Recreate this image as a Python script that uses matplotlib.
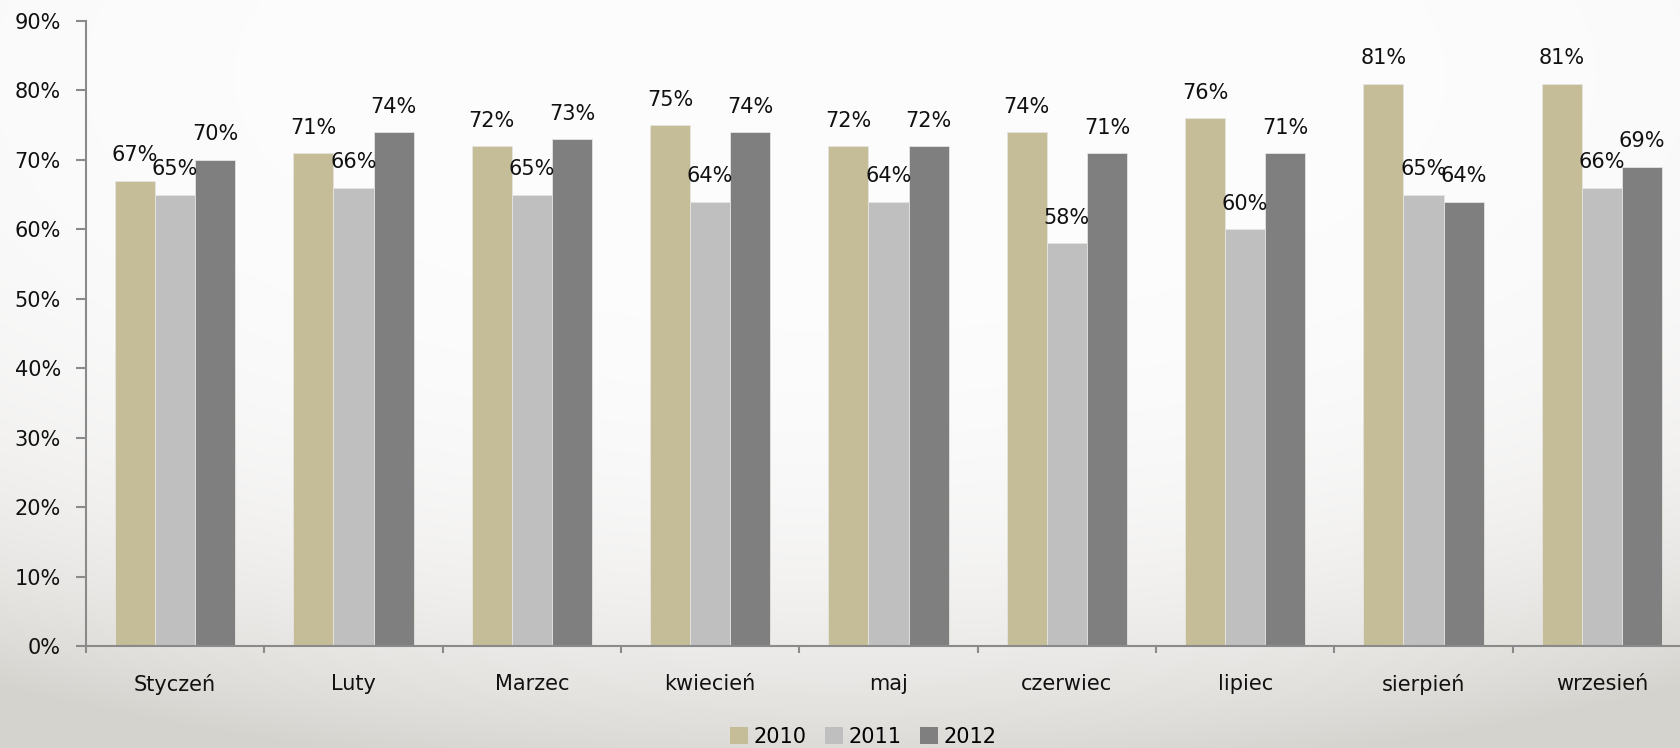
import numpy as np
import matplotlib
matplotlib.use("Agg")
import matplotlib.pyplot as plt
from matplotlib.patches import Patch

months = ["Styczeń", "Luty", "Marzec", "kwiecień", "maj",
          "czerwiec", "lipiec", "sierpień", "wrzesień"]
years = ["2010", "2011", "2012"]
share_2010 = [67, 71, 72, 75, 72, 74, 76, 81, 81]
share_2011 = [65, 66, 65, 64, 64, 58, 60, 65, 66]
share_2012 = [70, 74, 73, 74, 72, 71, 71, 64, 69]
colors = ["#C4BD97", "#BFBFBF", "#7F7F7F"]
y_ticks = [0, 10, 20, 30, 40, 50, 60, 70, 80, 90]

W, H = 1681, 748
fig = plt.figure(figsize=(W / 100, H / 100), dpi=100)

# soft slide background: white in the upper part, warm grey towards the bottom
bg = fig.add_axes([0, 0, 1, 1], zorder=-10)
t = np.linspace(0, 1, 400)[:, None]
s = np.linspace(0, 1, 800)[None, :]
top = np.array([0.993, 0.991, 0.993])
bottom = np.array([0.835, 0.828, 0.808])
r = np.sqrt(((s - 0.5) / 1.0) ** 2 + ((t - 0.1) / 0.95) ** 2)
v = np.clip(r, 0, 1) ** 4
img = top[None, None, :] + (bottom - top)[None, None, :] * v[..., None]
bg.imshow(np.clip(img, 0, 1), aspect="auto", extent=[0, 1, 0, 1])
bg.set_axis_off()

left_px, right_px, top_px, bot_px = 86, 1691, 21, 646
ax = fig.add_axes([left_px / W, 1 - bot_px / H,
                   (right_px - left_px) / W, (bot_px - top_px) / H])
ax.set_facecolor("none")

x = np.arange(len(months))
bw = 0.225
series = [share_2010, share_2011, share_2012]
for i, (vals, c, yr) in enumerate(zip(series, colors, years)):
    xs = x + (i - 1) * bw
    ax.bar(xs, vals, width=bw, color=c, edgecolor="#e6e4df", linewidth=0.6,
           label=yr, zorder=2)
    for xi, vi in zip(xs, vals):
        ax.annotate(f"{vi}%", (xi, vi), xytext=(0, 14), textcoords="offset points",
                    ha="center", va="baseline", fontsize=15, color="#111111",
                    zorder=3)

ax.set_xlim(-0.5, len(months) - 0.5)
ax.set_ylim(0, 90)
ax.set_yticks(y_ticks)
ax.set_yticklabels([f"{v}%" for v in y_ticks], fontsize=15, color="#111111")
ax.set_xticks(x)
ax.set_xticklabels(months, fontsize=15, color="#111111")
ax.set_xticks(np.arange(len(months) + 1) - 0.5, minor=True)

axis_c = "#8a8a8a"
for side in ("top", "right"):
    ax.spines[side].set_visible(False)
for side in ("left", "bottom"):
    ax.spines[side].set_color(axis_c)
    ax.spines[side].set_linewidth(1.5)
ax.tick_params(axis="y", length=7, width=1.5, color=axis_c, pad=11)
ax.tick_params(axis="x", which="major", length=0, pad=20)
ax.tick_params(axis="x", which="minor", length=5, width=1.5, color=axis_c)

handles = [Patch(facecolor=c, edgecolor="none") for c in colors]
fig.legend(handles, years, loc="center", bbox_to_anchor=(863 / W, 1 - 737 / H),
           ncol=3, frameon=False, fontsize=15, handlelength=0.87,
           handleheight=0.87, handletextpad=0.25, columnspacing=0.9,
           borderpad=0)

fig.savefig("out.png", dpi=100)
